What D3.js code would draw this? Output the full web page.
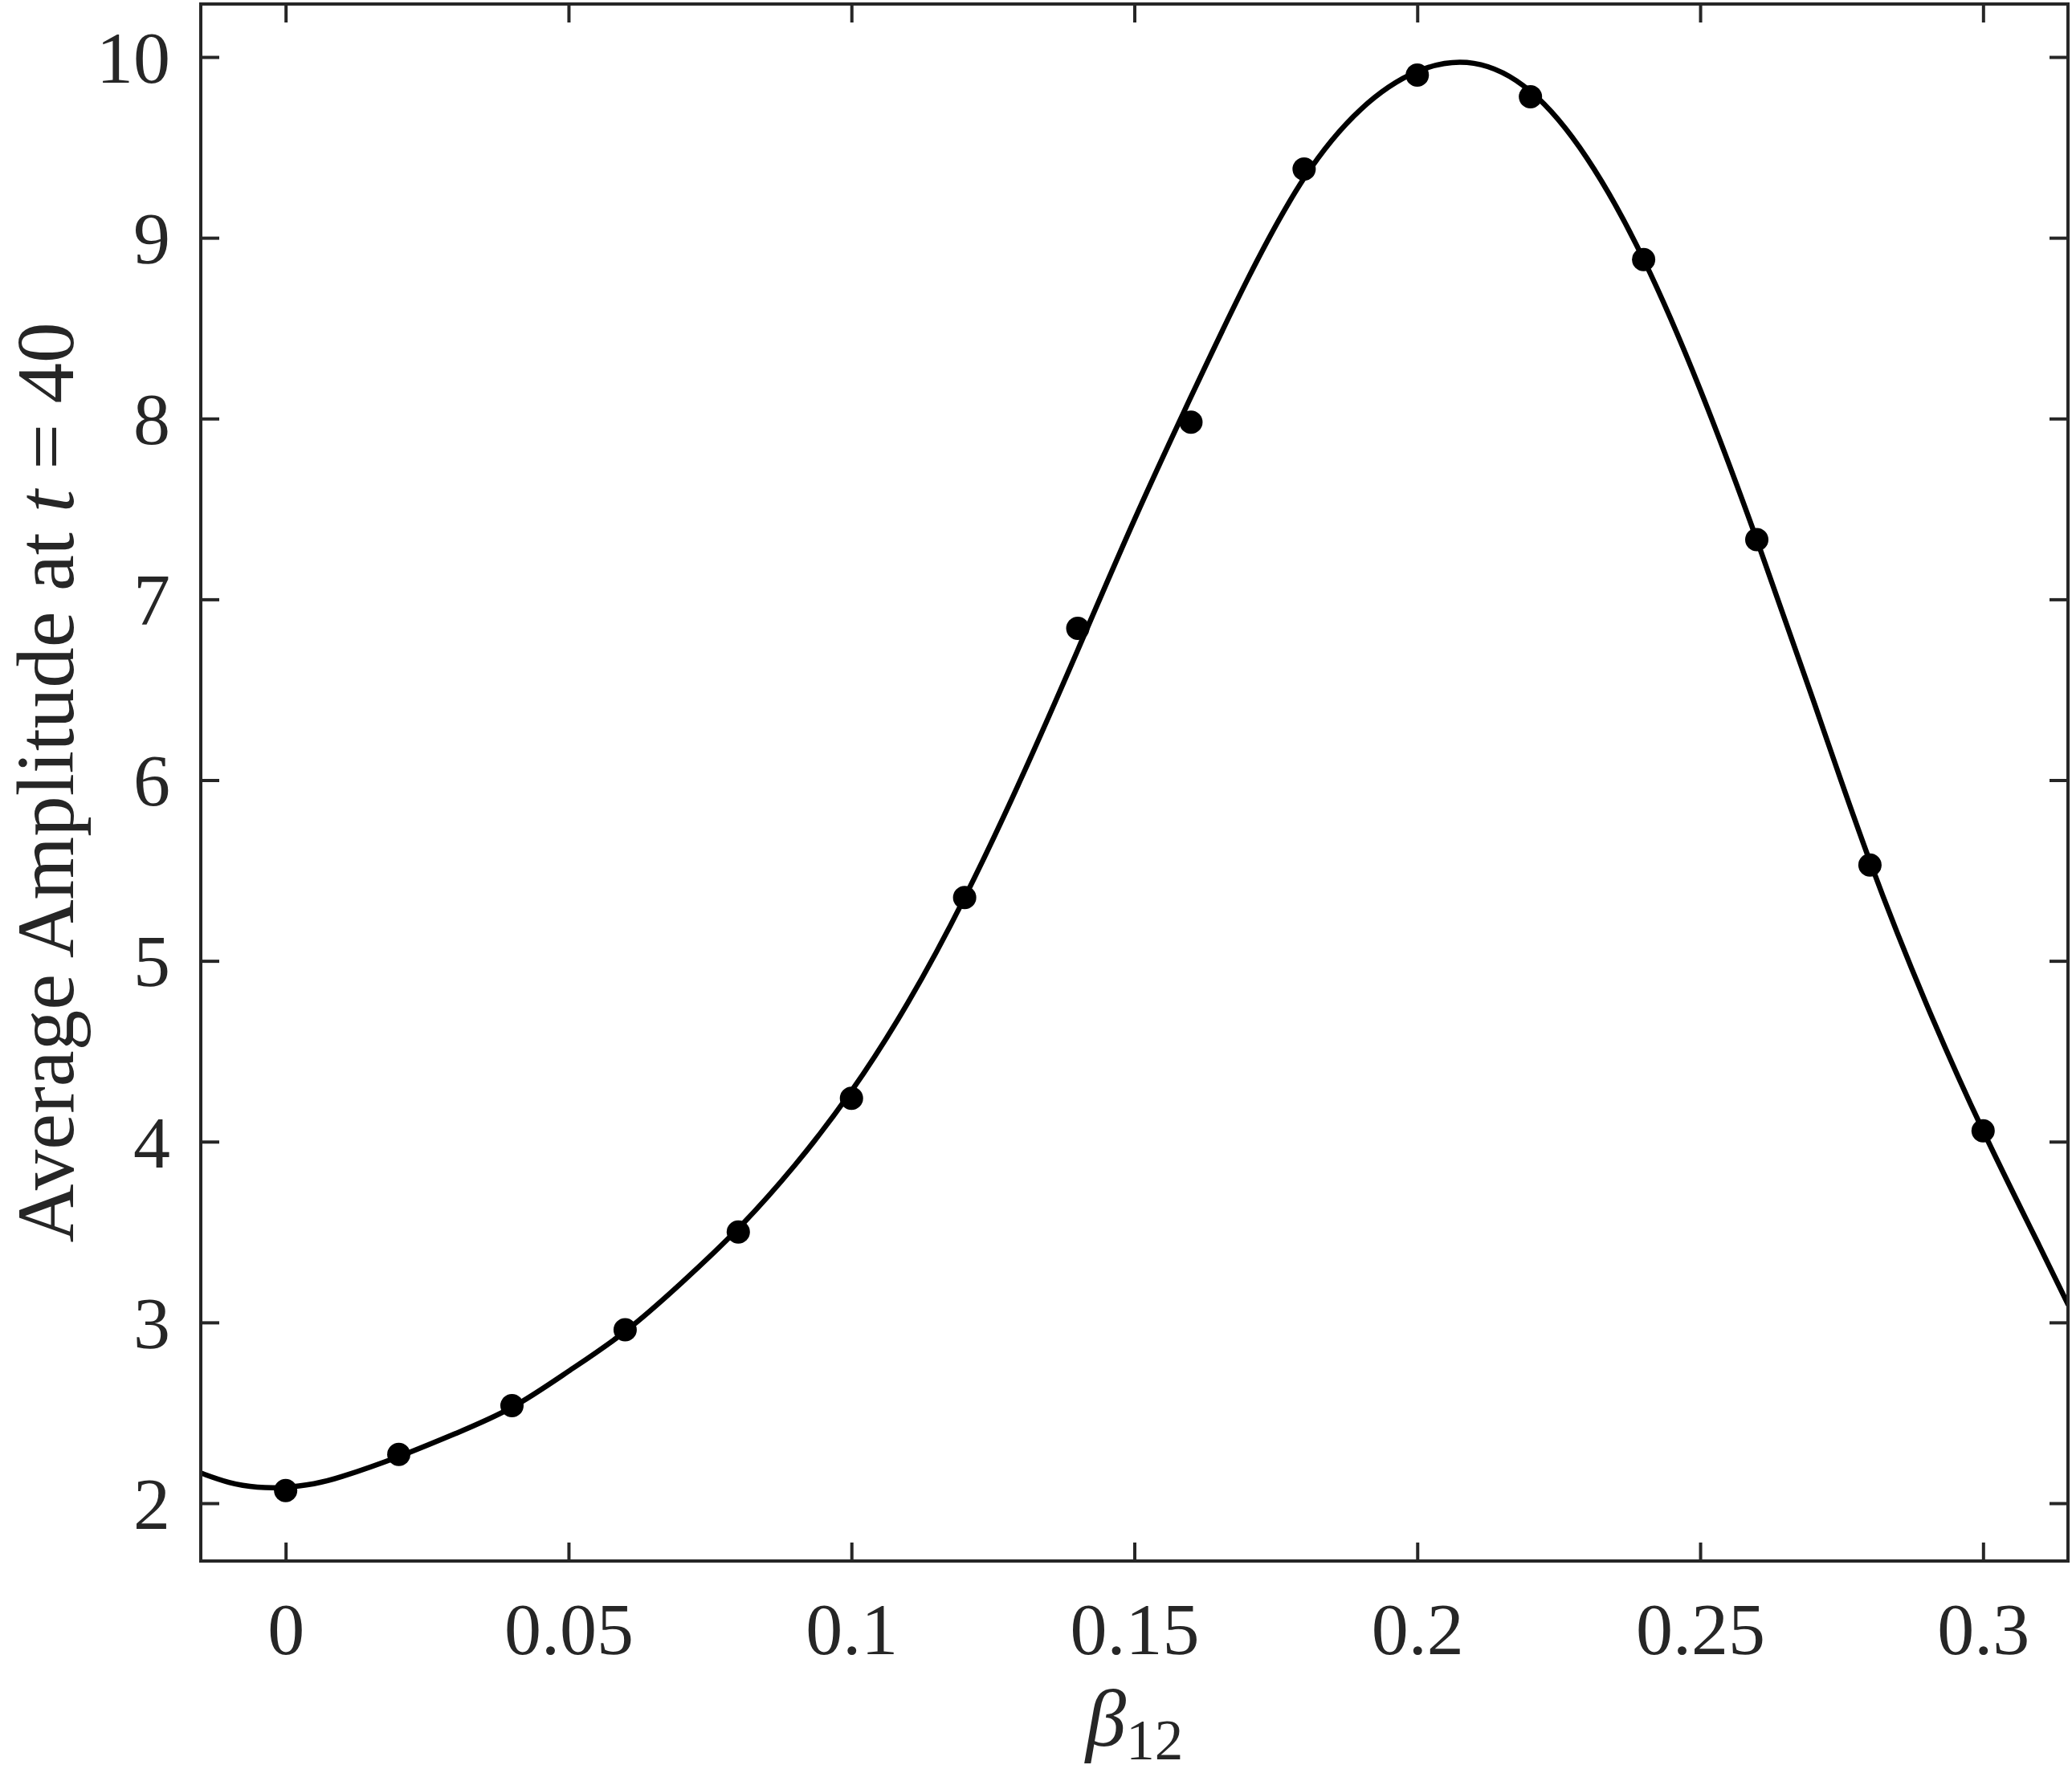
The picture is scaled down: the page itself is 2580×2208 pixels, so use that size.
<!DOCTYPE html>
<html>
<head>
<meta charset="utf-8">
<script src="https://cdn.jsdelivr.net/npm/d3@7"></script>
<style>
  html, body { margin: 0; padding: 0; background: #fff; }
  svg { display: block; }
  text { font-family: "Liberation Serif", "Times New Roman", serif; fill: #262626; }
</style>
</head>
<body>
<svg id="chart" width="2580" height="2208"></svg>
<script>
// Data points (beta12 -> average amplitude at t = 40)
const pointX = [0, 0.02, 0.04, 0.06, 0.08, 0.10, 0.12, 0.14, 0.16, 0.18, 0.20, 0.22, 0.24, 0.26, 0.28, 0.30];
const pointY = [2.07, 2.27, 2.54, 2.96, 3.50, 4.24, 5.35, 6.84, 7.98, 9.38, 9.90, 9.78, 8.88, 7.33, 5.53, 4.06];

// Fitted curve samples
const curveX = [-0.015, -0.01, -0.005, 0, 0.005, 0.01, 0.02, 0.03, 0.04, 0.05, 0.06, 0.07, 0.08, 0.09, 0.10,
                0.11, 0.12, 0.13, 0.14, 0.15, 0.16, 0.17, 0.18, 0.19, 0.20, 0.21, 0.22, 0.23,
                0.24, 0.25, 0.26, 0.27, 0.28, 0.29, 0.30, 0.31, 0.315];
const curveY = [2.167, 2.115, 2.089, 2.088, 2.108, 2.148, 2.258, 2.385, 2.53, 2.73, 2.95, 3.22, 3.52, 3.87, 4.28,
                4.77, 5.35, 6.01, 6.72, 7.44, 8.12, 8.77, 9.33, 9.71, 9.92, 9.965, 9.81, 9.44,
                8.88, 8.16, 7.33, 6.44, 5.55, 4.76, 4.06, 3.42, 3.10];

// Axes ticks
const xTicks = [0, 0.05, 0.1, 0.15, 0.2, 0.25, 0.3];
const xTickLabels = ["0", "0.05", "0.1", "0.15", "0.2", "0.25", "0.3"];
const yTicks = [2, 3, 4, 5, 6, 7, 8, 9, 10];
const yTickLabels = ["2", "3", "4", "5", "6", "7", "8", "9", "10"];

const xDomain = [-0.015, 0.315];
const yDomain = [1.6802, 10.2932];

const svg = d3.select("#chart");
const L = 250, R = 2575, T = 5, B = 1944;
const axisColor = "#262626";
const tickLen = 23;

const x = d3.scaleLinear().domain(xDomain).range([L, R]);
const y = d3.scaleLinear().domain(yDomain).range([B, T]);

svg.append("defs").append("clipPath").attr("id", "clip")
  .append("rect").attr("x", L).attr("y", T).attr("width", R - L).attr("height", B - T);

// Curve
const line = d3.line()
  .x((d, i) => x(curveX[i]))
  .y((d, i) => y(curveY[i]))
  .curve(d3.curveNatural);

svg.append("path")
  .datum(curveX)
  .attr("clip-path", "url(#clip)")
  .attr("d", line)
  .attr("fill", "none")
  .attr("stroke", "#000")
  .attr("stroke-width", 6.5)
  .attr("stroke-linejoin", "round");

// Dots
svg.append("g").selectAll("circle")
  .data(pointX)
  .join("circle")
  .attr("cx", (d) => x(d))
  .attr("cy", (d, i) => y(pointY[i]))
  .attr("r", 14.5)
  .attr("fill", "#000");

// Axes using d3 axis generators (ticks inward)
const fmtX = (d) => xTickLabels[xTicks.indexOf(d)];
const fmtY = (d) => yTickLabels[yTicks.indexOf(d)];

const gBottom = svg.append("g").attr("transform", `translate(0,${B})`)
  .call(d3.axisBottom(x).tickValues(xTicks).tickFormat(fmtX).tickSizeInner(-tickLen).tickSizeOuter(0).tickPadding(90));
const gTop = svg.append("g").attr("transform", `translate(0,${T})`)
  .call(d3.axisTop(x).tickValues(xTicks).tickFormat("").tickSizeInner(-tickLen).tickSizeOuter(0));
const gLeft = svg.append("g").attr("transform", `translate(${L},0)`)
  .call(d3.axisLeft(y).tickValues(yTicks).tickFormat(fmtY).tickSizeInner(-tickLen).tickSizeOuter(0).tickPadding(38));
const gRight = svg.append("g").attr("transform", `translate(${R},0)`)
  .call(d3.axisRight(y).tickValues(yTicks).tickFormat("").tickSizeInner(-tickLen).tickSizeOuter(0));

[gBottom, gTop, gLeft, gRight].forEach(g => {
  g.select(".domain").remove();
  g.selectAll(".tick line").attr("stroke", axisColor).attr("stroke-width", 4);
  g.selectAll(".tick text")
    .attr("fill", axisColor)
    .style("font-family", '"Liberation Serif", "Times New Roman", serif')
    .style("font-size", "92px");
});
gBottom.selectAll(".tick text").attr("dy", null).attr("y", 2060 - B);
gLeft.selectAll(".tick text").attr("dy", "0.34em");

// Box
svg.append("rect")
  .attr("x", L).attr("y", T).attr("width", R - L).attr("height", B - T)
  .attr("fill", "none").attr("stroke", axisColor).attr("stroke-width", 4);

// Y label
const yl = svg.append("text")
  .attr("transform", `translate(91,${(T + B) / 2}) rotate(-90)`)
  .attr("text-anchor", "middle")
  .style("font-size", "101px");
yl.append("tspan").text("Average Amplitude at ");
yl.append("tspan").attr("font-style", "italic").text("t");
yl.append("tspan").text(" = 40");

// X label
const xl = svg.append("text")
  .attr("x", (L + R) / 2)
  .attr("y", 2174)
  .attr("text-anchor", "middle")
  .style("font-size", "101px");
xl.append("tspan").attr("font-style", "italic").text("β");
xl.append("tspan").attr("dy", 17).style("font-size", "71px").text("12");
</script>
</body>
</html>
